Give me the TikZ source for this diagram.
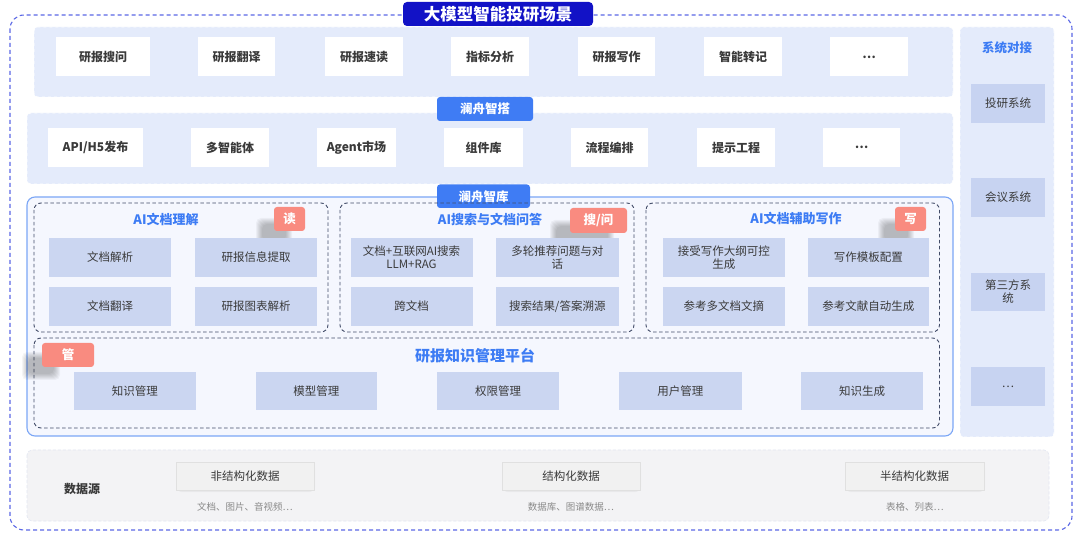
\documentclass[tikz,border=0pt]{standalone}
\usepackage{fontspec}
\setmainfont{Noto Sans CJK SC}
\definecolor{outerc}{HTML}{5B68E6}
\definecolor{titlec}{HTML}{1212C6}
\definecolor{tagblue}{HTML}{3F7CF4}
\definecolor{rowbg}{HTML}{E4EBFB}
\definecolor{kubd}{HTML}{7BA6F6}
\definecolor{kubg}{HTML}{F5F7FE}
\definecolor{dashc}{HTML}{424C68}
\definecolor{ibox}{HTML}{CBD6F1}
\definecolor{sbox}{HTML}{C7D3F1}
\definecolor{salmon}{HTML}{F98B80}
\definecolor{txt}{HTML}{3A3A3A}
\definecolor{bluetxt}{HTML}{3D7CF4}
\definecolor{datbg}{HTML}{F3F3F5}
\definecolor{datbd}{HTML}{E2E6F2}
\definecolor{datbox}{HTML}{F1F1F1}
\definecolor{graytxt}{HTML}{8A8A8A}
\newcommand\bx[7]{%
  \pgfmathsetmacro\cxx{(#2+#4)/2}\pgfmathsetmacro\cyy{(#3+#5)/2}%
  \pgfmathsetmacro\ww{#4-#2}\pgfmathsetmacro\hh{#5-#3}%
  \node[#6, minimum width=\ww pt, minimum height=\hh pt] (#1) at (\cxx,\cyy) {#7};}
\newcommand\blurshadow[4]{%
  \foreach \k in {0,1,...,6}{%
    \fill[black, opacity=0.04, rounded corners=5pt] ($(#1,#2)+(\k,\k)$) rectangle ($(#3,#4)-(\k,\k)$);}}
\usetikzlibrary{calc}
\begin{document}
\begin{tikzpicture}[x=1pt,y=-1pt,
  base/.style={inner sep=0pt, align=center, text=txt},
  wbox/.style={base, fill=white, font=\bfseries\fontsize{12}{14}\selectfont},
  rowbox/.style={fill=rowbg, rounded corners=4pt, draw=white, dashed, line width=0.6pt},
  tagb/.style={base, fill=tagblue, text=white, rounded corners=3pt, font=\bfseries\fontsize{12.5}{14}\selectfont},
  tags/.style={base, fill=salmon, text=white, rounded corners=3pt, font=\bfseries\fontsize{12.5}{14}\selectfont},
  dbox/.style={draw=dashc, dash pattern=on 3.5pt off 2.5pt, line width=0.9pt, rounded corners=7pt},
  inbox/.style={base, fill=ibox, font=\fontsize{11.5}{13}\selectfont},
  sysbox/.style={base, fill=sbox, font=\fontsize{11.5}{13}\selectfont},
  ttl/.style={base, text=bluetxt, font=\bfseries\fontsize{13}{15}\selectfont},
  datb/.style={base, fill=datbox, draw=black!12, line width=0.5pt, font=\fontsize{11.5}{13}\selectfont},
  sub/.style={base, text=graytxt, font=\fontsize{9.5}{11}\selectfont}
]
\useasboundingbox (0,0) rectangle (1080,537);
\fill[white] (0,0) rectangle (1080,537);

% outer dashed frame
\draw[outerc, dash pattern=on 4pt off 3pt, line width=1.1pt, rounded corners=14pt] (10,15) rectangle (1072,530);

% row 1: scenarios
\fill[rowbox] (34,27) rectangle (953,97);
\bx{t}{403}{2}{593}{26}{base, fill=titlec, text=white, rounded corners=4pt, font=\bfseries\fontsize{16.5}{18}\selectfont}{大模型智能投研场景}
\bx{s1}{56}{37.5}{150}{76.5}{wbox}{研报搜问}
\bx{s2}{198}{37.5}{275}{76.5}{wbox}{研报翻译}
\bx{s3}{325}{37.5}{403}{76.5}{wbox}{研报速读}
\bx{s4}{451}{37.5}{529}{76.5}{wbox}{指标分析}
\bx{s5}{578}{37.5}{655}{76.5}{wbox}{研报写作}
\bx{s6}{704}{37.5}{782}{76.5}{wbox}{智能转记}
\bx{s7}{830}{37.5}{908}{76.5}{wbox}{…}

% row 2: 澜舟智搭
\fill[rowbox] (27,113) rectangle (953,184);
\bx{da}{437}{97}{533}{121}{tagb}{澜舟智搭}
\bx{a1}{48}{128}{143}{167}{wbox}{API/H5发布}
\bx{a2}{191}{128}{269}{167}{wbox}{多智能体}
\bx{a3}{317}{128}{396}{167}{wbox}{Agent市场}
\bx{a4}{444}{128}{523}{167}{wbox}{组件库}
\bx{a5}{571}{128}{648}{167}{wbox}{流程编排}
\bx{a6}{697}{128}{775}{167}{wbox}{提示工程}
\bx{a7}{823}{128}{900}{167}{wbox}{…}

% 澜舟智库
\draw[kubd, fill=kubg, line width=1.1pt, rounded corners=8pt] (27,197) rectangle (953,436);
\bx{ku}{437}{184.5}{530}{208}{tagb}{澜舟智库}

% dashed groups
\draw[dbox] (34,203) rectangle (328,332);
\draw[dbox] (340,203) rectangle (634,332);
\draw[dbox] (646,203) rectangle (939.5,332);
\draw[dbox] (34,338) rectangle (939.5,428);

\node[ttl] (g1) at (166,220) {AI文档理解};
\node[ttl] (g2) at (490,219) {AI搜索与文档问答};
\node[ttl] (g3) at (796,218) {AI文档辅助写作};
\node[ttl, font=\bfseries\fontsize{15}{17}\selectfont] (g4) at (475,356) {研报知识管理平台};

\blurshadow{256}{218}{292}{247}
\blurshadow{550}{220}{614}{248}
\blurshadow{878}{218}{914}{247}
\blurshadow{22}{352}{60}{380}

\bx{b1}{49}{238}{171}{277}{inbox}{文档解析}
\bx{b2}{195}{238}{317}{277}{inbox}{研报信息提取}
\bx{b3}{49}{287}{171}{326}{inbox}{文档翻译}
\bx{b4}{195}{287}{317}{326}{inbox}{研报图表解析}

\bx{c1}{350.5}{238}{472.5}{277}{inbox}{文档+互联网AI搜索\\LLM+RAG}
\bx{c2}{496}{238}{618.5}{277}{inbox}{多轮推荐问题与对\\话}
\bx{c3}{350.5}{287}{472.5}{326}{inbox}{跨文档}
\bx{c4}{496}{287}{618.5}{326}{inbox}{搜索结果/答案溯源}

\bx{w1}{663}{238}{784.5}{277}{inbox}{接受写作大纲可控\\生成}
\bx{w2}{807.5}{238}{929}{277}{inbox}{写作模板配置}
\bx{w3}{663}{287}{784.5}{326}{inbox}{参考多文档文摘}
\bx{w4}{807.5}{287}{929}{326}{inbox}{参考文献自动生成}

\bx{k1}{74}{372}{195.5}{410}{inbox}{知识管理}
\bx{k2}{255.5}{372}{377}{410}{inbox}{模型管理}
\bx{k3}{437}{372}{559}{410}{inbox}{权限管理}
\bx{k4}{619}{372}{741.5}{410}{inbox}{用户管理}
\bx{k5}{801}{372}{923}{410}{inbox}{知识生成}

\bx{tr}{274}{207}{305}{231}{tags}{读}
\bx{ts}{570}{208}{627}{233}{tags}{搜/问}
\bx{tw}{895}{207}{926}{231}{tags}{写}
\bx{tm}{42}{343}{94}{367}{tags}{管}

% right column
\fill[rowbox] (960,27) rectangle (1054,437);
\node[ttl, font=\bfseries\fontsize{12.5}{14}\selectfont] (sys) at (1007,48) {系统对接};
\bx{y1}{971}{84}{1045}{123}{sysbox}{投研系统}
\bx{y2}{971}{178}{1045}{217}{sysbox}{会议系统}
\bx{y3}{971}{273}{1045}{311}{sysbox}{第三方系\\统}
\bx{y4}{971}{367}{1045}{406}{sysbox}{…}

% data sources
\draw[datbd, fill=datbg, dash pattern=on 3pt off 2pt, line width=0.6pt, rounded corners=5pt] (27,450) rectangle (1049,521);
\node[base, font=\bfseries\fontsize{12}{14}\selectfont] (ds) at (82,489) {数据源};
\blurshadow{176}{463}{315}{492}
\blurshadow{502}{463}{641}{492}
\blurshadow{845}{463}{985}{492}
\bx{d1}{176}{462}{314}{490}{datb}{非结构化数据}
\bx{d2}{502}{462}{640}{490}{datb}{结构化数据}
\bx{d3}{845}{462}{984}{490}{datb}{半结构化数据}
\node[sub] (e1) at (245,507) {文档、图片、音视频…};
\node[sub] (e2) at (571,507) {数据库、图谱数据…};
\node[sub] (e3) at (915,507) {表格、列表…};
\end{tikzpicture}
\end{document}
